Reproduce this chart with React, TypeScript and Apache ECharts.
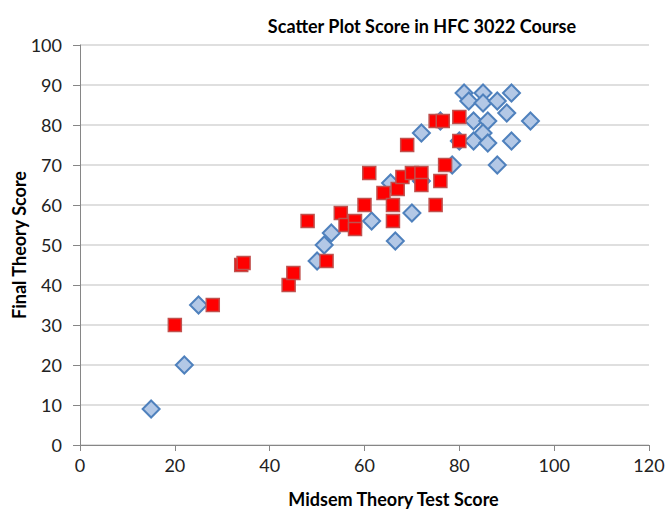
import React, { useEffect, useRef } from "react";
import * as echarts from "echarts";

// Series 1 (blue diamonds): [midsem, final]
const blueMidsem = [15, 22, 25, 50, 51.5, 53, 61.5, 66.5, 70, 65.5, 72, 78.5, 72, 76, 80, 83, 81, 82, 85, 85, 88, 91, 90, 95, 83, 86, 85, 86, 91, 88];
const blueFinal = [9, 20, 35, 46, 50, 53, 56, 51, 58, 65.5, 66, 70, 78, 81, 76, 76, 88, 86, 88, 85.5, 86, 88, 83, 81, 81, 81, 78, 75.5, 76, 70];

// Series 2 (red squares): [midsem, final]
const redMidsem = [20, 28, 34, 34.5, 44, 45, 48, 52, 55, 56, 58, 58, 60, 61, 64, 66, 66, 67, 68, 69, 70, 72, 72, 75, 76, 77, 75, 76.5, 80, 80];
const redFinal = [30, 35, 45, 45.5, 40, 43, 56, 46, 58, 55, 56, 54, 60, 68, 63, 60, 56, 64, 67, 75, 68, 68, 65, 60, 66, 70, 81, 81, 82, 76];

const xTicks = [0, 20, 40, 60, 80, 100, 120];
const yTicks = [0, 10, 20, 30, 40, 50, 60, 70, 80, 90, 100];

const titleText = "Scatter Plot Score in HFC 3022 Course";
const xName = "Midsem Theory Test Score";
const yName = "Final Theory Score";

const FONT = "Lato, 'Open Sans', sans-serif";

export default function App() {
  const ref = useRef<HTMLDivElement>(null);
  useEffect(() => {
    if (!ref.current) return;
    const chart = echarts.init(ref.current, undefined, { renderer: "svg" });
    const blue = blueMidsem.map((x, i) => [x, blueFinal[i]]);
    const red = redMidsem.map((x, i) => [x, redFinal[i]]);
    chart.setOption({
      animation: false,
      backgroundColor: "#ffffff",
      textStyle: { fontFamily: FONT },
      title: {
        text: titleText,
        left: 417,
        top: 12,
        textAlign: "center",
        textStyle: { fontFamily: FONT, fontWeight: "bold", fontSize: 18, color: "#000" },
      },
      grid: { left: 80, right: 16, top: 45, bottom: 67, outerBoundsMode: "none", containLabel: false },
      xAxis: {
        type: "value",
        min: xTicks[0],
        max: xTicks[xTicks.length - 1],
        interval: 20,
        name: xName,
        nameLocation: "middle",
        nameGap: 45,
        nameMoveOverlap: false,
        nameTextStyle: {
          fontFamily: FONT,
          fontWeight: "bold",
          fontSize: 18,
          color: "#000",
          padding: [0, 0, 0, 58],
        },
        axisLine: { show: true, onZero: false, lineStyle: { color: "#868686", width: 1 } },
        axisTick: { show: true, length: 6, lineStyle: { color: "#868686" } },
        axisLabel: { fontFamily: FONT, fontSize: 18, color: "#222", margin: 11 },
        splitLine: { show: false },
      },
      yAxis: {
        type: "value",
        min: yTicks[0],
        max: yTicks[yTicks.length - 1],
        interval: 10,
        name: yName,
        nameLocation: "middle",
        nameGap: 52,
        nameMoveOverlap: false,
        nameTextStyle: { fontFamily: FONT, fontWeight: "bold", fontSize: 18, color: "#000" },
        axisLine: { show: true, lineStyle: { color: "#868686", width: 1 } },
        axisTick: { show: true, length: 7, lineStyle: { color: "#868686" } },
        axisLabel: { fontFamily: FONT, fontSize: 18, color: "#222", margin: 18 },
        splitLine: { show: true, lineStyle: { color: "#d4d4d4", width: 1.5 } },
      },
      series: [
        {
          name: "Series1",
          type: "scatter",
          symbol: "diamond",
          symbolSize: 17,
          data: blue,
          itemStyle: { color: "#b3c8e6", borderColor: "#4f81bd", borderWidth: 2, opacity: 1 },
        },
        {
          name: "Series2",
          type: "scatter",
          symbol: "rect",
          symbolSize: 13,
          data: red,
          itemStyle: { color: "#ff0000", borderColor: "#c0504d", borderWidth: 1.5, opacity: 1 },
        },
      ],
    });
    return () => chart.dispose();
  }, []);
  return <div ref={ref} style={{ position: "absolute", left: 0, top: 0, width: 665, height: 512 }} />;
}
